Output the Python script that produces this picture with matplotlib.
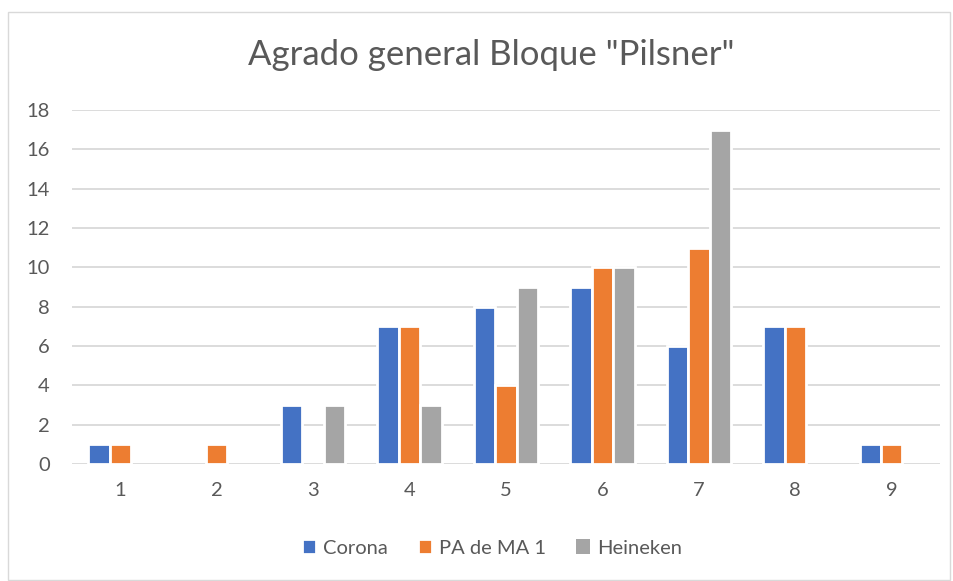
#!/usr/bin/env python3

import numpy as np
import matplotlib
matplotlib.use("Agg")
import matplotlib.pyplot as plt
from matplotlib.patches import Rectangle

categories = ["1", "2", "3", "4", "5", "6", "7", "8", "9"]
corona = [1, 0, 3, 7, 8, 9, 6, 7, 1]
pa_de_ma = [1, 1, 0, 7, 4, 10, 11, 7, 1]
heineken = [0, 0, 3, 3, 9, 10, 17, 0, 0]

series = [
    ("Corona", corona, "#4472C4"),
    ("PA de MA 1", pa_de_ma, "#ED7D31"),
    ("Heineken", heineken, "#A5A5A5"),
]

TEXT = "#595959"
GRID = "#D9D9D9"

plt.rcParams["font.family"] = ["Lato", "DejaVu Sans"]

fig = plt.figure(figsize=(9.54, 5.81), dpi=100)
ax = fig.add_axes([72 / 954, 1 - 464 / 581, 868 / 954, 354 / 581])

# chart border
fig.patches.append(Rectangle((8 / 954, 0.002), 942 / 954, 1 - 12 / 581 - 0.002,
                             transform=fig.transFigure, fill=False,
                             edgecolor="#D9D9D9", linewidth=1))

x = np.arange(len(categories))
w = 1 / 4.5
for i, (name, vals, color) in enumerate(series):
    vals = np.array(vals)
    lw = np.where(vals > 0, 2.0, 0)
    ax.bar(x + (i - 1) * w, vals, width=w, color=color, label=name,
           edgecolor="white", linewidth=lw, zorder=3)

ax.set_xlim(-0.5, len(categories) - 0.5)
ax.set_ylim(0, 18)
ax.set_yticks(range(0, 19, 2))
ax.set_xticks(x)
ax.set_xticklabels(categories)
ax.grid(axis="y", color=GRID, linewidth=1.3, zorder=0)
ax.set_axisbelow(True)
for s in ax.spines.values():
    s.set_visible(False)
ax.tick_params(length=0, labelsize=14.5, colors=TEXT)
ax.tick_params(axis="x", pad=13)
ax.tick_params(axis="y", pad=16)

fig.text(491 / 954, 1 - 55 / 581, 'Agrado general Bloque "Pilsner"',
         ha="center", va="center", fontsize=25, color=TEXT)

fig.legend(loc="center", bbox_to_anchor=(492 / 954, 1 - 548 / 581), ncol=3,
           frameon=False, fontsize=14.5, labelcolor=TEXT, handlelength=0.7,
           handleheight=0.7, handletextpad=0.35, columnspacing=1.5)

fig.savefig("out.png", dpi=100)
